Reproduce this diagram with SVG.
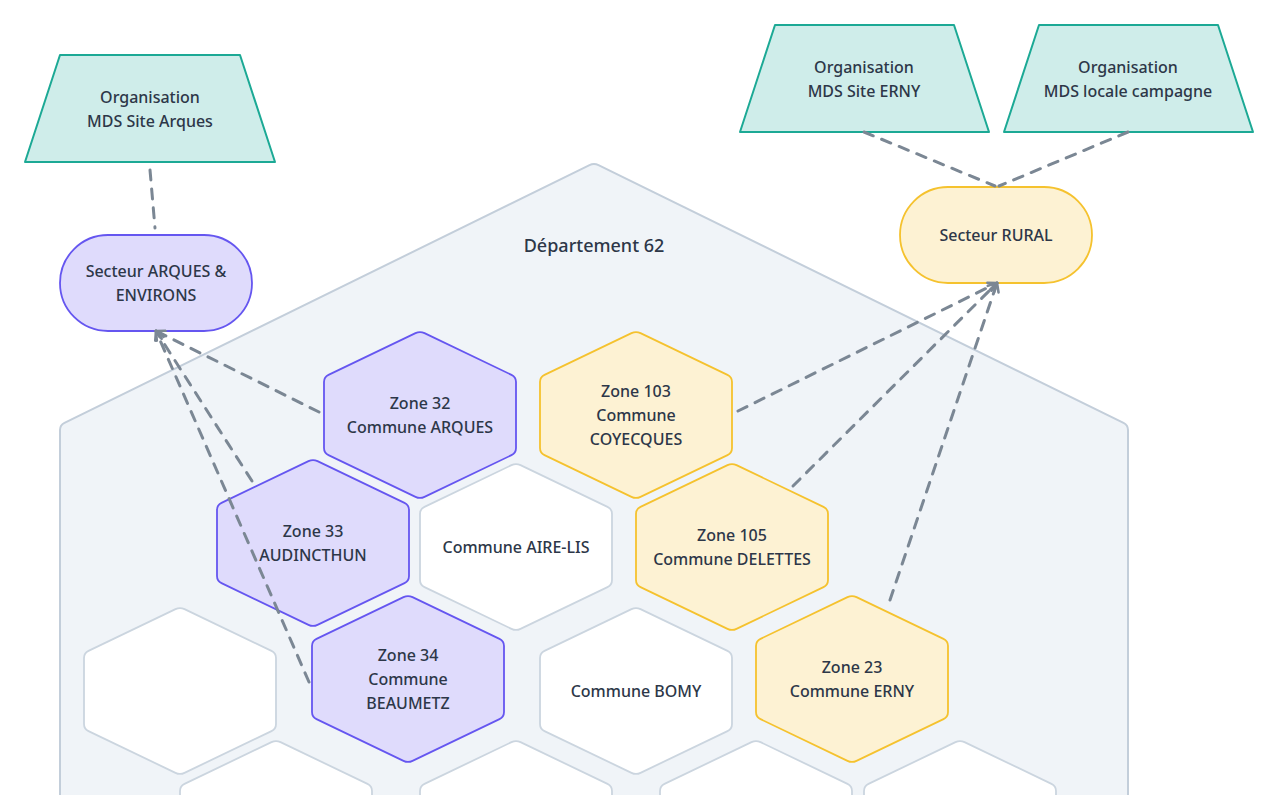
<svg xmlns="http://www.w3.org/2000/svg" width="1279" height="795" viewBox="0 0 1279 795">
<style>
text{font-family:"Noto Sans","Liberation Sans",sans-serif;font-size:16px;font-weight:500;fill:#2d3748;text-anchor:middle}
.dept{fill:#f0f4f8;stroke:#c3ceda;stroke-width:2}
.purple{fill:#dfdbfc;stroke:#6556f0;stroke-width:1.8}
.yellow{fill:#fdf2d3;stroke:#f5c22e;stroke-width:1.8}
.blank{fill:#ffffff;stroke:#cbd5df;stroke-width:1.8}
.org{fill:#cfedea;stroke:#1ca995;stroke-width:2;stroke-linejoin:round}
.conn{fill:none;stroke:#7b8794;stroke-width:3;stroke-dasharray:10 9;stroke-linecap:round}
</style>
<defs>
<path id="hex" d="M -4.51,-81.84 Q 0,-84 4.51,-81.84 L 91.49,-40.16 Q 96,-38 96,-33 L 96,33 Q 96,38 91.49,40.16 L 4.51,81.84 Q 0,84 -4.51,81.84 L -91.49,40.16 Q -96,38 -96,33 L -96,-33 Q -96,-38 -91.49,-40.16 Z"/>
<marker id="arrow" viewBox="0 0 12 12" refX="10" refY="6" markerWidth="12" markerHeight="12" markerUnits="userSpaceOnUse" orient="auto">
<path d="M 1.5,1.5 L 10,6 L 1.5,10.5" fill="none" stroke="#7b8794" stroke-width="2.6" stroke-linecap="round" stroke-linejoin="round"/>
</marker>
</defs>

<g id="departement">
<path class="dept" d="M 60,900 L 60,430 Q 60,425 64.5,422.8 L 589.5,165.2 Q 594,163 598.5,165.2 L 1123.5,422.8 Q 1128,425 1128,430 L 1128,900 Z"/>
<text x="594" y="252" style="font-size:18px">Département 62</text>
</g>

<g id="hex-bottom-1"><use href="#hex" class="blank" transform="translate(276,824)"/></g>
<g id="hex-bottom-2"><use href="#hex" class="blank" transform="translate(516,824)"/></g>
<g id="hex-bottom-3"><use href="#hex" class="blank" transform="translate(756,824)"/></g>
<g id="hex-bottom-4"><use href="#hex" class="blank" transform="translate(960,824)"/></g>
<g id="hex-empty"><use href="#hex" class="blank" transform="translate(180,691)"/></g>

<g id="zone32"><use href="#hex" class="purple" transform="translate(420,415)"/>
<text x="420" y="409">Zone 32</text><text x="420" y="433">Commune ARQUES</text></g>
<g id="zone103"><use href="#hex" class="yellow" transform="translate(636,415)"/>
<text x="636" y="397">Zone 103</text><text x="636" y="421">Commune</text><text x="636" y="445">COYECQUES</text></g>
<g id="zone33"><use href="#hex" class="purple" transform="translate(313,543)"/>
<text x="313" y="537">Zone 33</text><text x="313" y="561">AUDINCTHUN</text></g>
<g id="aire-lis"><use href="#hex" class="blank" transform="translate(516,547)"/>
<text x="516" y="553">Commune AIRE-LIS</text></g>
<g id="zone105"><use href="#hex" class="yellow" transform="translate(732,547)"/>
<text x="732" y="541">Zone 105</text><text x="732" y="565">Commune DELETTES</text></g>
<g id="zone34"><use href="#hex" class="purple" transform="translate(408,679)"/>
<text x="408" y="661">Zone 34</text><text x="408" y="685">Commune</text><text x="408" y="709">BEAUMETZ</text></g>
<g id="bomy"><use href="#hex" class="blank" transform="translate(636,691)"/>
<text x="636" y="697">Commune BOMY</text></g>
<g id="zone23"><use href="#hex" class="yellow" transform="translate(852,679)"/>
<text x="852" y="673">Zone 23</text><text x="852" y="697">Commune ERNY</text></g>

<g id="org-arques"><path class="org" d="M 60,55 L 240,55 L 275,162 L 25,162 Z"/>
<text x="150" y="103">Organisation</text><text x="150" y="127">MDS Site Arques</text></g>
<g id="org-erny"><path class="org" d="M 775,25 L 954,25 L 989,132 L 740,132 Z"/>
<text x="864" y="73">Organisation</text><text x="864" y="97">MDS Site ERNY</text></g>
<g id="org-campagne"><path class="org" d="M 1039,25 L 1218,25 L 1253,132 L 1004,132 Z"/>
<text x="1128" y="73">Organisation</text><text x="1128" y="97">MDS locale campagne</text></g>

<g id="secteur-arques"><rect x="60" y="235" width="192" height="96" rx="48" class="purple"/>
<text x="156" y="277">Secteur ARQUES &amp;</text><text x="156" y="301">ENVIRONS</text></g>
<g id="secteur-rural"><rect x="900" y="187" width="192" height="96" rx="48" class="yellow"/>
<text x="996" y="241">Secteur RURAL</text></g>

<g id="connectors">
<path class="conn" d="M 150,170 L 155,228"/>
<path class="conn" d="M 864,132 L 995,186"/>
<path class="conn" d="M 1128,132 L 999,186"/>
<path class="conn" d="M 319,412 L 156,331" marker-end="url(#arrow)"/>
<path class="conn" d="M 252,481 L 156,331" marker-end="url(#arrow)"/>
<path class="conn" d="M 309,682 L 156,331" marker-end="url(#arrow)"/>
<path class="conn" d="M 738,411 L 997,283" marker-end="url(#arrow)"/>
<path class="conn" d="M 793,486 L 997,283" marker-end="url(#arrow)"/>
<path class="conn" d="M 890,600 L 997,283" marker-end="url(#arrow)"/>
</g>
</svg>
